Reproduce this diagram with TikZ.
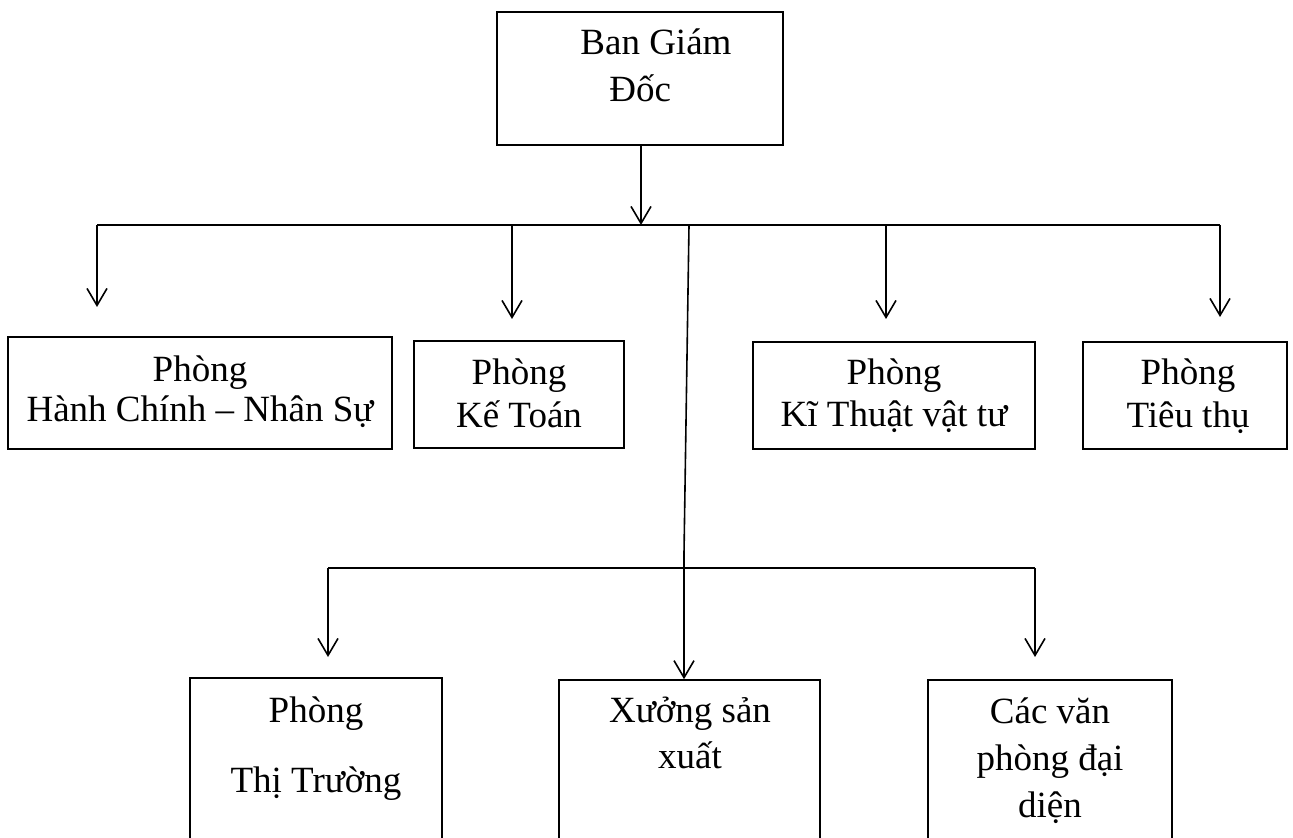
\documentclass[tikz,border=0pt]{standalone}
\usepackage{fontspec}
\setmainfont{Liberation Serif}
\usepackage{tikz}
\usetikzlibrary{positioning, arrows.meta, calc}

\tikzset{
    box/.style={draw, line width=0.8pt, inner sep=0pt},
    txt/.style={inner sep=0pt, align=center},
    conn/.style={line width=0.8pt},
    arr/.style={conn, -{Straight Barb[length=8.5pt, width=10pt, line width=0.8pt]}}
}
\newcommand{\fsz}[1]{\fontsize{18.5}{#1}\selectfont}

\begin{document}
\begin{tikzpicture}[x=0.5pt, y=-0.5pt]
        \useasboundingbox (0,0) rectangle (1293,838);

        % Draw boxes
        \node[box, minimum width=143pt, minimum height=66.5pt] (bgd) at (640,78.5) {};
        \node[box, minimum width=192pt, minimum height=56pt] (hcns) at (200,393) {};
        \node[box, minimum width=105pt, minimum height=53.5pt] (kt) at (519,394.5) {};
        \node[box, minimum width=141pt, minimum height=53.5pt] (ktvt) at (894,395.5) {};
        \node[box, minimum width=102pt, minimum height=53.5pt] (tt) at (1185,395.5) {};
        \node[box, minimum width=126pt, minimum height=86pt] (thitr) at (316,764) {};
        \node[box, minimum width=130.5pt, minimum height=85pt] (xsx) at (689.5,765) {};
        \node[box, minimum width=122pt, minimum height=85pt] (vpdd) at (1050,765) {};

        % Box texts (anchored at the baseline of the last line)
        \node[txt, align=left, anchor=base west, font=\fsz{23.5pt}] (bgd-t) at (580,102) {Ban Giám\\\hspace*{14.5pt}Đốc};
        \node[txt, anchor=base, font=\fsz{20pt}] (hcns-t) at (200,422) {Phòng\\Hành Chính – Nhân Sự};
        \node[txt, anchor=base, font=\fsz{21.5pt}] (kt-t) at (519,428) {Phòng\\Kế Toán};
        \node[txt, anchor=base, font=\fsz{21pt}] (ktvt-t) at (894,427) {Phòng\\Kĩ Thuật vật tư};
        \node[txt, anchor=base, font=\fsz{21.5pt}] (tt-t) at (1188,428) {Phòng\\Tiêu thụ};
        \node[txt, anchor=base, font=\fsz{35pt}] (thitr-t) at (316,792) {Phòng\\Thị Trường};
        \node[txt, anchor=base, font=\fsz{23pt}] (xsx-t) at (690,768) {Xưởng sản\\xuất};
        \node[txt, anchor=base, font=\fsz{23.5pt}] (vpdd-t) at (1050,817) {Các văn\\phòng đại\\diện};

        % Upper bus
        \coordinate (j0) at (641,225);
        \coordinate (b1w) at (97,225);
        \coordinate (b1e) at (1220,225);
        \coordinate (t1) at (97,307);
        \coordinate (t2) at (512,319);
        \coordinate (t3) at (886,319);
        \coordinate (t4) at (1220,317);
        \draw[arr] (bgd.south -| j0) -- (j0);
        \draw[conn] (b1w) -- (b1e);
        \foreach \t in {t1,t2,t3,t4}
            \draw[arr] (\t |- b1w) -- (\t);

        % Lower bus
        \coordinate (s0) at (689,225);
        \coordinate (s1) at (684,553);
        \coordinate (b2w) at (328,568);
        \coordinate (b2e) at (1035,568);
        \coordinate (t5) at (328,657);
        \coordinate (t6) at (1035,657);
        \draw[arr] (s0) -- (s1) -- (s1 |- xsx.north);
        \draw[conn] (b2w) -- (b2e);
        \foreach \t in {t5,t6}
            \draw[arr] (\t |- b2w) -- (\t);
    \end{tikzpicture}
\end{document}
